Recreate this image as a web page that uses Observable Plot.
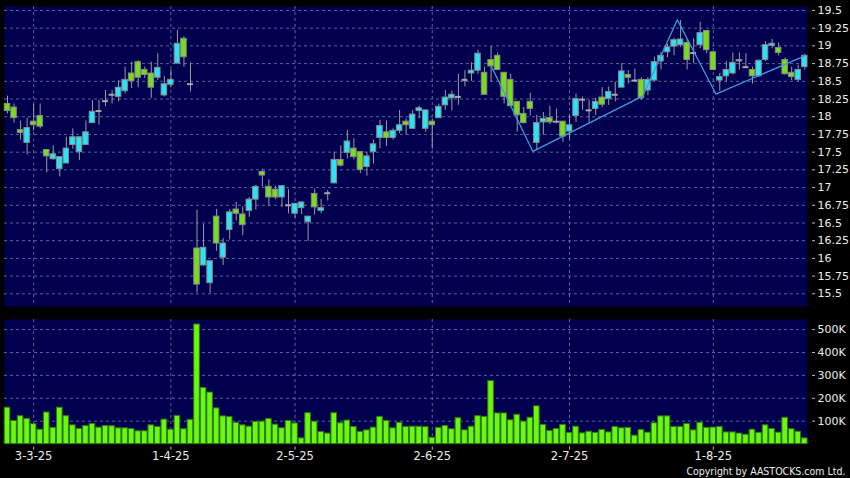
<!DOCTYPE html>
<html><head><meta charset="utf-8">
<script src="https://cdn.jsdelivr.net/npm/d3@7"></script>
<script src="https://cdn.jsdelivr.net/npm/@observablehq/plot@0.6"></script>
<style>
html,body{margin:0;padding:0;background:#000;}
#chart{width:850px;height:478px;background:#000;overflow:hidden;}
#chart svg{display:block;}
</style></head><body><div id="chart"></div>
<script>
// ---- data ----
const opens  = [18.18,18.13,17.81,17.63,17.93,18.01,17.53,17.40,17.26,17.34,17.60,17.50,17.60,17.91,18.08,18.22,18.31,18.28,18.36,18.61,18.77,18.66,18.61,18.55,18.30,18.45,18.75,19.10,18.46,16.14,15.90,15.65,16.59,16.01,16.40,16.69,16.62,16.67,16.83,17.22,17.01,16.97,16.86,16.75,16.63,16.71,16.51,16.91,16.67,16.92,17.06,17.39,17.49,17.55,17.50,17.29,17.50,17.70,17.78,17.70,17.80,17.93,17.83,18.08,17.83,17.93,17.98,18.16,18.26,18.28,18.52,18.61,18.65,18.62,18.80,18.86,18.62,18.52,18.21,18.04,18.21,17.63,17.92,17.98,17.93,17.93,17.79,18.01,18.24,18.09,18.11,18.27,18.25,18.31,18.41,18.59,18.51,18.52,18.37,18.51,18.78,18.91,18.99,19.01,19.04,18.90,19.01,19.21,18.91,18.51,18.57,18.61,18.78,18.70,18.66,18.57,18.80,19.00,18.97,18.80,18.62,18.52,18.70];
const highs  = [18.29,18.18,17.94,17.98,18.17,18.18,17.53,17.59,17.43,17.71,17.83,17.71,17.94,18.23,18.23,18.37,18.37,18.51,18.70,18.77,18.79,18.70,18.77,18.89,18.57,18.66,19.22,19.13,18.76,16.68,16.48,15.97,16.69,16.28,16.69,16.79,16.73,16.86,17.03,17.26,17.11,17.02,17.03,16.97,16.77,16.79,16.59,16.98,16.83,16.96,17.50,17.59,17.81,17.69,17.50,17.50,17.67,17.95,17.94,17.83,18.09,17.97,18.09,18.15,18.09,17.97,18.18,18.37,18.36,18.60,18.65,18.76,18.94,18.70,18.99,18.90,18.62,18.60,18.21,18.13,18.33,18.02,18.06,18.15,18.11,17.93,18.02,18.32,18.28,18.23,18.26,18.41,18.42,18.49,18.75,18.65,18.67,18.55,18.55,18.84,18.91,19.02,19.11,19.36,19.09,19.10,19.33,19.22,18.92,18.61,18.78,18.90,18.90,18.89,18.70,18.80,19.06,19.09,19.04,18.83,18.70,18.73,18.88];
const lows   = [18.04,17.91,17.67,17.46,17.80,17.83,17.21,17.38,17.15,17.34,17.54,17.38,17.60,17.91,17.88,18.14,18.18,18.21,18.32,18.40,18.41,18.54,18.26,18.51,18.28,18.41,18.75,18.70,18.35,15.51,15.89,15.51,16.10,15.90,16.26,16.53,16.32,16.58,16.68,17.01,16.73,16.83,16.72,16.63,16.57,16.62,16.24,16.61,16.63,16.81,17.05,17.29,17.40,17.39,17.20,17.16,17.33,17.55,17.58,17.67,17.76,17.74,17.82,17.97,17.78,17.54,17.98,18.09,18.08,18.16,18.42,18.50,18.60,18.30,18.49,18.65,18.18,18.14,17.78,17.90,18.01,17.52,17.74,17.89,17.90,17.64,17.67,17.92,18.09,17.91,18.02,18.13,18.16,18.21,18.41,18.46,18.49,18.23,18.30,18.50,18.66,18.83,18.86,18.98,18.66,18.75,18.96,18.89,18.65,18.36,18.49,18.59,18.66,18.68,18.46,18.56,18.78,18.96,18.86,18.59,18.51,18.49,18.66];
const closes = [18.08,17.98,17.77,17.84,17.88,17.86,17.44,17.47,17.43,17.55,17.71,17.71,17.78,18.07,18.08,18.22,18.31,18.41,18.52,18.50,18.55,18.59,18.41,18.69,18.46,18.52,19.03,18.84,18.46,15.63,16.15,15.96,16.21,16.21,16.65,16.63,16.47,16.83,17.01,17.17,16.86,16.86,17.02,16.75,16.77,16.79,16.59,16.72,16.71,16.92,17.39,17.31,17.65,17.43,17.25,17.44,17.61,17.87,17.70,17.80,17.88,17.88,18.03,18.12,18.09,17.88,18.14,18.27,18.31,18.28,18.52,18.65,18.89,18.31,18.71,18.66,18.28,18.15,18.02,17.91,18.11,17.91,17.97,17.92,17.93,17.72,17.88,18.25,18.24,18.09,18.21,18.17,18.35,18.31,18.64,18.55,18.51,18.26,18.52,18.77,18.86,18.98,19.08,19.09,18.80,18.90,19.18,18.94,18.66,18.56,18.66,18.76,18.80,18.70,18.57,18.79,19.01,19.03,18.90,18.60,18.56,18.66,18.86];
const volumesK = [159,101,122,110,87,63,138,71,159,122,82,66,79,88,72,79,78,69,69,66,56,56,82,75,107,63,123,65,106,522,245,225,156,121,118,93,82,76,97,98,110,85,69,101,90,25,135,98,53,46,135,91,103,75,53,60,72,119,101,69,93,75,76,76,74,28,71,79,65,113,60,76,122,119,275,134,134,104,128,98,115,165,84,57,66,84,49,76,47,54,49,62,51,75,69,71,37,62,50,91,121,121,75,75,88,60,93,71,72,75,51,51,46,41,63,49,82,66,50,115,65,54,25];

// date ticks (trading-day index) and their labels
const tickIdx = [4, 25, 44, 65, 86, 108];
const tickLabels = ["3-3-25", "1-4-25", "2-5-25", "2-6-25", "2-7-25", "1-8-25"];
const priceTicks = [15.5, 15.75, 16, 16.25, 16.5, 16.75, 17, 17.25, 17.5, 17.75, 18, 18.25, 18.5, 18.75, 19, 19.25, 19.5];
const volTicksK = [100, 200, 300, 400, 500];

// hand-drawn trend line on the price panel
const trendIdx = [74, 80.4, 97.2, 102.5, 108.4, 122];
const trendPrice = [18.72, 17.51, 18.29, 19.37, 18.32, 18.86];

// ---- build ----
const bars = opens.map((o, i) => ({i, o, h: highs[i], l: lows[i], c: closes[i], v: volumesK[i] * 1000}));
const up = bars.filter(d => d.c > d.o);
const down = bars.filter(d => d.c < d.o);
const flat = bars.filter(d => d.c === d.o);
const trend = trendIdx.map((x, k) => ({x, y: trendPrice[k]}));

const W = 850;
const xDomain = [-0.46, 122.42];
const font = "'DejaVu Sans', sans-serif";
const navy = "#00004f";
const gridColor = "#6a6aa6";
const textColor = "#ececec";
const tickColor = "#bdbdbd";
const gridOpts = {stroke: gridColor, strokeOpacity: 0.9, strokeDasharray: "3,3", strokeWidth: 1};

const price = Plot.plot({
  width: W, height: 310,
  marginTop: 6, marginBottom: 4, marginLeft: 4, marginRight: 43,
  style: {background: "#000", fontFamily: font, fontSize: "11px", color: textColor, overflow: "visible"},
  x: {domain: xDomain, axis: null},
  y: {domain: [15.321, 19.556], axis: null},
  marks: [
    Plot.frame({fill: navy, stroke: null}),
    Plot.gridY({ticks: priceTicks, ...gridOpts}),
    Plot.gridX({ticks: tickIdx, ...gridOpts}),
    Plot.ruleX(bars, {x: "i", y1: "l", y2: "h", stroke: "#9c9c9c", strokeWidth: 1}),
    Plot.rect(up, {x1: d => d.i - 0.42, x2: d => d.i + 0.42, y1: "o", y2: "c", fill: "#2ae3f5", stroke: "#8a8a8a", strokeWidth: 1}),
    Plot.rect(down, {x1: d => d.i - 0.42, x2: d => d.i + 0.42, y1: "o", y2: "c", fill: "#78dc1e", stroke: "#8a8a8a", strokeWidth: 1}),
    Plot.ruleY(flat, {y: "o", x1: d => d.i - 0.45, x2: d => d.i + 0.45, stroke: "#a8a8a8", strokeWidth: 2}),
    Plot.line(trend, {x: "x", y: "y", stroke: "#3d9be0", strokeWidth: 1.3}),
    Plot.axisY({ticks: priceTicks, anchor: "right", label: null, tickSize: 3, tickPadding: 3, dx: 4,
      stroke: tickColor, fill: textColor, tickFormat: d => String(d)})
  ]
});

const vol = Plot.plot({
  width: W, height: 168,
  marginTop: 9, marginBottom: 34.4, marginLeft: 4, marginRight: 43,
  style: {background: "#000", fontFamily: font, fontSize: "11px", color: textColor, overflow: "visible"},
  x: {domain: xDomain, axis: null},
  y: {domain: [0, 544000], axis: null},
  marks: [
    Plot.frame({fill: navy, stroke: null}),
    Plot.gridY({ticks: volTicksK.map(v => v * 1000), ...gridOpts}),
    Plot.gridX({ticks: tickIdx, ...gridOpts}),
    Plot.rectY(bars, {x1: d => d.i - 0.43, x2: d => d.i + 0.43, y: "v", fill: "#6af812", stroke: "#2f7a08", strokeWidth: 1}),
    Plot.axisY({ticks: volTicksK.map(v => v * 1000), anchor: "right", label: null, tickSize: 3, tickPadding: 3, dx: 4,
      stroke: tickColor, fill: textColor, tickFormat: d => (d / 1000) + "K"}),
    Plot.axisX({ticks: tickIdx, anchor: "bottom", label: null, tickSize: 3, tickPadding: 2, dy: 3,
      stroke: tickColor, fill: textColor, fontSize: 11.5,
      tickFormat: d => tickLabels[tickIdx.indexOf(d)]}),
    Plot.text(["Copyright by AASTOCKS.com Ltd."], {text: d => d, frameAnchor: "bottom-right", textAnchor: "end",
      lineAnchor: "bottom", dx: 38, dy: 31, fill: textColor,
      fontFamily: "'DejaVu Sans Condensed', 'DejaVu Sans', sans-serif", fontSize: 10.5})
  ]
});

const root = document.getElementById("chart");
root.appendChild(price);
root.appendChild(vol);
</script>
</body></html>
